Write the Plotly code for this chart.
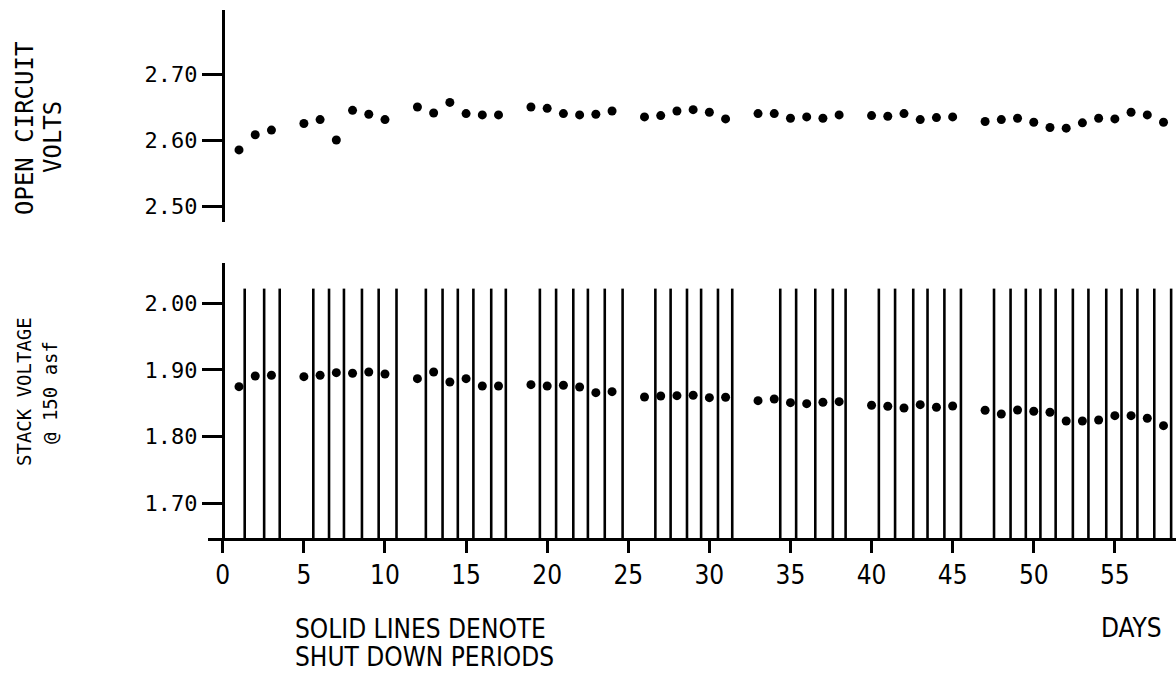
import plotly.graph_objects as go

# Day numbers on which readings were taken
days = [1, 2, 3, 5, 6, 7, 8, 9, 10, 12, 13, 14, 15, 16, 17, 19, 20, 21, 22, 23, 24,
        26, 27, 28, 29, 30, 31, 33, 34, 35, 36, 37, 38, 40, 41, 42, 43, 44, 45,
        47, 48, 49, 50, 51, 52, 53, 54, 55, 56, 57, 58, 59]

# Open circuit volts
ocv = [2.585, 2.608, 2.615, 2.625, 2.631, 2.600, 2.645, 2.639, 2.631, 2.650, 2.641,
       2.657, 2.640, 2.638, 2.638, 2.650, 2.648, 2.640, 2.638, 2.639, 2.644,
       2.635, 2.637, 2.644, 2.646, 2.642, 2.632, 2.640, 2.640, 2.633, 2.635, 2.633,
       2.638, 2.637, 2.636, 2.640, 2.631, 2.634, 2.635,
       2.628, 2.631, 2.633, 2.627, 2.619, 2.618, 2.626, 2.633, 2.632, 2.642, 2.638,
       2.627, 2.611]

# Stack voltage at 150 asf
stack_v = [1.875, 1.891, 1.892, 1.890, 1.892, 1.896, 1.895, 1.897, 1.894, 1.887, 1.897,
           1.882, 1.887, 1.876, 1.876, 1.878, 1.876, 1.877, 1.8745, 1.866, 1.8675,
           1.8595, 1.861, 1.8615, 1.862, 1.8585, 1.859, 1.854, 1.8565, 1.851, 1.8495,
           1.8515, 1.8525, 1.847, 1.8455, 1.843, 1.848, 1.844, 1.846,
           1.8395, 1.834, 1.840, 1.838, 1.8365, 1.8235, 1.8235, 1.825, 1.8315, 1.8315,
           1.8275, 1.8165, 1.8225]

# Shut down periods (day position of each solid line)
shutdowns = [1.35, 2.55, 3.51,
             5.58, 6.55, 7.47, 8.58, 9.61, 10.71,
             12.52, 13.55, 14.49, 15.45, 16.55, 17.45,
             19.55, 20.55, 21.61, 22.51, 23.55, 24.65,
             26.67, 27.61, 28.62, 29.49, 30.53, 31.41,
             34.37, 35.35, 36.53, 37.61, 38.40,
             40.45, 41.45, 42.57, 43.45, 44.49, 45.51,
             47.55, 48.57, 49.51, 50.41, 51.35, 52.41, 53.37, 54.47, 55.41, 56.39,
             57.43, 58.47]
shutdown_top = 2.022

x_ticks = [0, 5, 10, 15, 20, 25, 30, 35, 40, 45, 50, 55]
ocv_ticks = [2.50, 2.60, 2.70]
stack_ticks = [1.70, 1.80, 1.90, 2.00]

W, H = 1176, 674
BLACK = "#000000"
MONO = "DejaVu Sans Mono, Liberation Mono, monospace"
NARROW = "Liberation Sans Narrow, DejaVu Sans Condensed, Arial Narrow, sans-serif"


def px(x):
    return x / W


def py(y):
    return 1 - y / H


# Vertical solid lines for the shut down periods
line_x, line_y = [], []
for d in shutdowns:
    line_x += [d, d, None]
    line_y += [1.648, shutdown_top, None]

fig = go.Figure()
fig.add_trace(go.Scatter(x=line_x, y=line_y, mode="lines",
                         line=dict(color=BLACK, width=2.6),
                         xaxis="x", yaxis="y", hoverinfo="skip"))
fig.add_trace(go.Scatter(x=days, y=stack_v, mode="markers",
                         marker=dict(color=BLACK, size=9),
                         xaxis="x", yaxis="y", cliponaxis=False))
fig.add_trace(go.Scatter(x=days, y=ocv, mode="markers",
                         marker=dict(color=BLACK, size=9),
                         xaxis="x", yaxis="y2", cliponaxis=False))

axis_x = 222.8
fig.update_layout(
    width=W, height=H, autosize=False,
    margin=dict(l=0, r=0, t=0, b=0),
    paper_bgcolor="white", plot_bgcolor="white",
    showlegend=False,
    xaxis=dict(domain=[px(208), 1], range=[-0.912, 58.77], anchor="y",
               showline=True, linewidth=3, linecolor=BLACK,
               ticks="outside", ticklen=12, tickwidth=3, tickcolor=BLACK,
               tickvals=x_ticks, ticktext=[str(v) for v in x_ticks],
               tickfont=dict(family=NARROW, size=26, color=BLACK),
               showgrid=False, zeroline=False, automargin=False),
    yaxis=dict(domain=[py(538), py(263)], range=[1.648, 2.0604],
               anchor="free", position=px(axis_x),
               showline=True, linewidth=3, linecolor=BLACK,
               ticks="outside", ticklen=20, tickwidth=3, tickcolor=BLACK,
               tickvals=stack_ticks, ticktext=[f"{v:.2f}" for v in stack_ticks],
               tickfont=dict(family=MONO, size=22, color=BLACK),
               showgrid=False, zeroline=False, automargin=False),
    yaxis2=dict(domain=[py(222), py(10)], range=[2.4758, 2.797],
                anchor="free", position=px(axis_x),
                showline=True, linewidth=3, linecolor=BLACK,
                ticks="outside", ticklen=20, tickwidth=3, tickcolor=BLACK,
                tickvals=ocv_ticks, ticktext=[f"{v:.2f}" for v in ocv_ticks],
                tickfont=dict(family=MONO, size=22, color=BLACK),
                showgrid=False, zeroline=False, automargin=False),
)

annotations = [
    dict(text="OPEN CIRCUIT", x=px(25), y=py(129), textangle=-90,
         font=dict(family=MONO, size=24, color=BLACK)),
    dict(text="VOLTS", x=px(53), y=py(137), textangle=-90,
         font=dict(family=MONO, size=24, color=BLACK)),
    dict(text="STACK VOLTAGE", x=px(24), y=py(392), textangle=-90,
         font=dict(family=MONO, size=19, color=BLACK)),
    dict(text="@ 150 asf", x=px(50), y=py(393), textangle=-90,
         font=dict(family=MONO, size=19, color=BLACK)),
    dict(text="SOLID LINES DENOTE", x=px(293), y=py(629), xanchor="left",
         font=dict(family=NARROW, size=26, color=BLACK)),
    dict(text="SHUT DOWN PERIODS", x=px(293), y=py(657), xanchor="left",
         font=dict(family=NARROW, size=26, color=BLACK)),
    dict(text="DAYS", x=px(1131), y=py(628),
         font=dict(family=NARROW, size=26, color=BLACK)),
]
for a in annotations:
    a.update(xref="paper", yref="paper", showarrow=False)
    a.setdefault("xanchor", "center")
    a.setdefault("yanchor", "middle")
fig.update_layout(annotations=annotations)

fig.write_html("out.html")
